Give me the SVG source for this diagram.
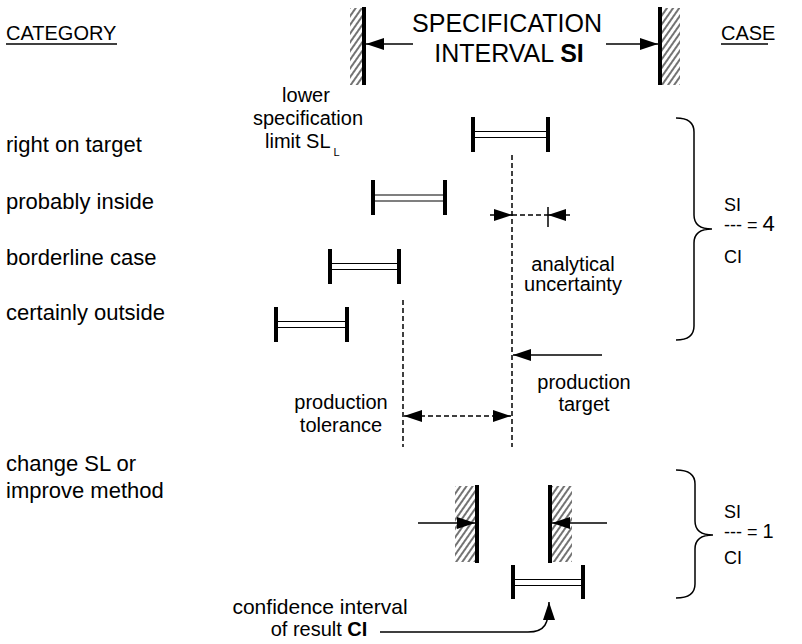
<svg xmlns="http://www.w3.org/2000/svg" width="802" height="644" viewBox="0 0 802 644">
  <defs>
    <!-- diagonal hatching for the limit walls -->
    <pattern id="hatch" width="5" height="5" patternUnits="userSpaceOnUse" patternTransform="rotate(35)">
      <line x1="1" y1="0" x2="1" y2="5" stroke="#000" stroke-width="1.1"/>
    </pattern>
    <marker id="ah" viewBox="0 0 18 12" refX="18" refY="6" markerWidth="18" markerHeight="12" markerUnits="userSpaceOnUse" orient="auto-start-reverse">
      <path d="M0,0 L18,6 L0,12 Z" fill="#000"/>
    </marker>
  </defs>
  <style>
    text { font-family: "Liberation Sans", Arial, Helvetica, sans-serif; fill: #000; }
    .lbl { font-size: 20px; }
    .cat { font-size: 22px; }
    .mid { text-anchor: middle; }
    .head { font-size: 26px; }
    .frac { font-size: 18px; }
    .wall { stroke: #000; stroke-width: 4; }
    .bar { stroke: #000; stroke-width: 4; }
    .dbl { stroke: #000; stroke-width: 1.2; }
    .dash { stroke: #000; stroke-width: 1.5; stroke-dasharray: 5 3; fill: none; }
    .thin { stroke: #000; stroke-width: 1.5; fill: none; }
    .ul { stroke: #000; stroke-width: 1.5; }
  </style>

  <!-- column headings -->
  <g id="heading-category">
    <text class="lbl" x="6" y="40">CATEGORY</text>
    <line class="ul" x1="6" y1="44" x2="117" y2="44"/>
  </g>
  <g id="heading-case">
    <text class="lbl" x="721" y="40">CASE</text>
    <line class="ul" x1="721" y1="44" x2="768" y2="44"/>
  </g>

  <!-- specification interval with its two limit walls -->
  <g id="spec-interval">
    <rect x="350" y="8" width="12" height="77" fill="url(#hatch)"/>
    <line class="wall" x1="364" y1="7" x2="364" y2="85"/>
    <rect x="662" y="8" width="18" height="77" fill="url(#hatch)"/>
    <line class="wall" x1="660" y1="7" x2="660" y2="85"/>
    <text class="head mid" x="507" y="32" textLength="190" lengthAdjust="spacingAndGlyphs">SPECIFICATION</text>
    <text class="mid" font-size="25" x="509" y="62">INTERVAL <tspan font-weight="bold">SI</tspan></text>
  </g>

  <!-- category labels -->
  <g id="cat-on-target"><text class="cat" x="6" y="152">right on target</text></g>
  <g id="cat-probably-inside"><text class="cat" x="6" y="209">probably inside</text></g>
  <g id="cat-borderline"><text class="cat" x="6" y="265">borderline case</text></g>
  <g id="cat-outside"><text class="cat" x="6" y="320">certainly outside</text></g>
  <g id="cat-change">
    <text class="cat" x="6" y="471">change SL or</text>
    <text class="cat" x="6" y="498">improve method</text>
  </g>

  <!-- lower specification limit label -->
  <g id="label-lower-limit">
    <text class="lbl mid" x="306" y="102">lower</text>
    <text class="lbl mid" x="308" y="125">specification</text>
    <text class="lbl" x="265" y="148">limit SL<tspan font-size="11" dx="3" dy="8">L</tspan></text>
  </g>

  <!-- confidence intervals -->
  <g id="ci-on-target">
    <line class="bar" x1="473" y1="117" x2="473" y2="152"/>
    <line class="bar" x1="548" y1="117" x2="548" y2="152"/>
    <line class="dbl" x1="473" y1="131.5" x2="548" y2="131.5"/>
    <line class="dbl" x1="473" y1="137.5" x2="548" y2="137.5"/>
  </g>
  <g id="ci-probably-inside">
    <line class="bar" x1="373" y1="180" x2="373" y2="215"/>
    <line class="bar" x1="445" y1="180" x2="445" y2="215"/>
    <line class="dbl" x1="373" y1="195" x2="445" y2="195"/>
    <line class="dbl" x1="373" y1="201" x2="445" y2="201"/>
  </g>
  <g id="ci-borderline">
    <line class="bar" x1="330" y1="249" x2="330" y2="284"/>
    <line class="bar" x1="399" y1="249" x2="399" y2="284"/>
    <line class="dbl" x1="330" y1="263.5" x2="399" y2="263.5"/>
    <line class="dbl" x1="330" y1="269.5" x2="399" y2="269.5"/>
  </g>
  <g id="ci-outside">
    <line class="bar" x1="276" y1="307" x2="276" y2="342"/>
    <line class="bar" x1="347" y1="307" x2="347" y2="342"/>
    <line class="dbl" x1="276" y1="321.5" x2="347" y2="321.5"/>
    <line class="dbl" x1="276" y1="327.5" x2="347" y2="327.5"/>
  </g>

  <!-- improved case: narrowed walls and result interval -->
  <g id="wall-left-lower">
    <rect x="455" y="486" width="20" height="76" fill="url(#hatch)"/>
    <line class="wall" x1="477" y1="485" x2="477" y2="563"/>
  </g>
  <g id="wall-right-lower">
    <rect x="552" y="486" width="20" height="76" fill="url(#hatch)"/>
    <line class="wall" x1="550" y1="485" x2="550" y2="563"/>
  </g>
  <g id="ci-result">
    <line class="bar" x1="513" y1="565" x2="513" y2="599"/>
    <line class="bar" x1="583" y1="565" x2="583" y2="599"/>
    <line class="dbl" x1="513" y1="579.5" x2="583" y2="579.5"/>
    <line class="dbl" x1="513" y1="585.5" x2="583" y2="585.5"/>
  </g>

  <!-- annotation labels -->
  <g id="label-analytical">
    <text class="lbl mid" x="573" y="271">analytical</text>
    <text class="lbl mid" x="573" y="291">uncertainty</text>
  </g>
  <g id="label-target">
    <text class="lbl mid" x="584" y="389">production</text>
    <text class="lbl mid" x="584" y="411">target</text>
  </g>
  <g id="label-tolerance">
    <text class="lbl mid" x="341" y="409">production</text>
    <text class="lbl mid" x="341" y="432">tolerance</text>
  </g>
  <g id="label-ci">
    <text class="mid" font-size="21" x="320" y="614">confidence interval</text>
    <text class="lbl mid" x="319" y="636">of result <tspan font-weight="bold">CI</tspan></text>
  </g>

  <!-- case braces and ratios -->
  <g id="case-4">
    <path class="thin" d="M676,118 Q694,118 694,132 L694,215 Q694,229 712,229 Q694,229 694,243 L694,326 Q694,340 676,340"/>
    <text class="frac" x="724" y="211">SI</text>
    <text class="frac" x="724" y="231">--- = <tspan font-size="22">4</tspan></text>
    <text class="frac" x="724" y="263">CI</text>
  </g>
  <g id="case-1">
    <path class="thin" d="M676,470 Q695,470 695,484 L695,521 Q695,535 713,535 Q695,535 695,549 L695,584 Q695,598 676,598"/>
    <text class="frac" x="724" y="518">SI</text>
    <text class="frac" x="724" y="538">--- = <tspan font-size="20">1</tspan></text>
    <text class="frac" x="724" y="564">CI</text>
  </g>

  <!-- connectors -->
  <g id="connectors">
    <line class="thin" x1="413" y1="44" x2="366" y2="44" marker-end="url(#ah)"/>
    <line class="thin" x1="606" y1="44" x2="658" y2="44" marker-end="url(#ah)"/>
    <line class="dash" x1="512" y1="155" x2="512" y2="447"/>
    <line class="dash" x1="403" y1="300" x2="403" y2="447"/>
    <line class="thin" x1="490" y1="215" x2="512" y2="215" marker-end="url(#ah)"/>
    <line class="dash" x1="512" y1="215" x2="548" y2="215"/>
    <line class="thin" x1="548" y1="207" x2="548" y2="227"/>
    <line class="thin" x1="570" y1="215" x2="548" y2="215" marker-end="url(#ah)"/>
    <line class="thin" x1="602" y1="355" x2="513" y2="355" marker-end="url(#ah)"/>
    <line class="dash" x1="404" y1="416" x2="511" y2="416" marker-start="url(#ah)" marker-end="url(#ah)"/>
    <line class="thin" x1="418" y1="523" x2="475" y2="523" marker-end="url(#ah)"/>
    <line class="thin" x1="607" y1="523" x2="552" y2="523" marker-end="url(#ah)"/>
    <path class="thin" d="M380,632 L528,632 C545,632 549,624 549,602" marker-end="url(#ah)"/>
  </g>
</svg>
